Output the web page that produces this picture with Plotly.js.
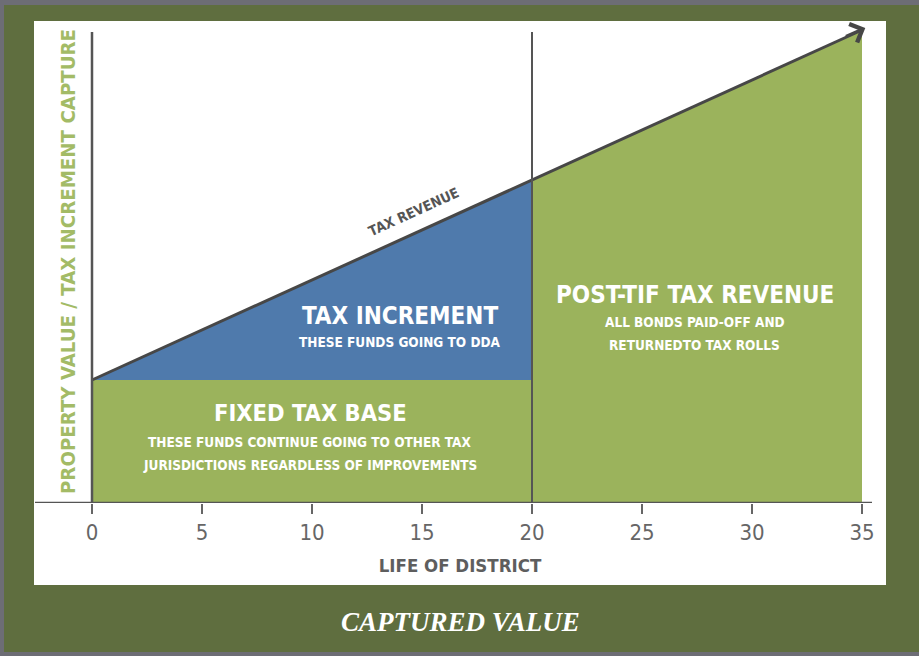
<!DOCTYPE html>
<html>
<head>
<meta charset="utf-8">
<script src="https://cdn.plot.ly/plotly-3.0.1.min.js"></script>
<style>html,body{margin:0;padding:0;background:#6d6d75;}#chart{width:919px;height:656px;}</style>
</head>
<body>
<div id="chart"></div>
<script>
// ---- data ----
const years = [0, 20, 35];            // life of district (start, TIF end, end)
const fixedBase = 123;                // frozen base value
const taxRevenue = [123, 323, 473];   // total property value / tax revenue
const xTickVals = [0, 5, 10, 15, 20, 25, 30, 35];
const xTickText = ['0', '5', '10', '15', '20', '25', '30', '35'];

const GREEN = 'rgb(155,179,92)';
const BLUE = 'rgb(79,122,172)';
const FONT = '"Liberation Sans Narrow", "DejaVu Sans Condensed", "Roboto Condensed", sans-serif';

const traces = [
  { // fixed tax base
    x: [years[0], years[1]], y: [fixedBase, fixedBase],
    mode: 'lines', line: {width: 0, color: GREEN}, fill: 'tozeroy', fillcolor: GREEN,
    hoverinfo: 'skip'
  },
  { // tax increment
    x: [years[0], years[1], years[1], years[0]],
    y: [taxRevenue[0], taxRevenue[1], fixedBase, fixedBase],
    mode: 'lines', line: {width: 0, color: BLUE}, fill: 'toself', fillcolor: BLUE,
    hoverinfo: 'skip'
  },
  { // post-TIF revenue
    x: [years[1], years[1], years[2], years[2]],
    y: [0, taxRevenue[1], taxRevenue[2], 0],
    mode: 'lines', line: {width: 0, color: GREEN}, fill: 'toself', fillcolor: GREEN,
    hoverinfo: 'skip'
  },
  { // tax revenue line
    x: years, y: taxRevenue,
    mode: 'lines', line: {width: 3, color: '#474747'}, hoverinfo: 'skip'
  }
];

const W = 852, H = 482, L = 34, T = 21;
function px(p) { return (p - L) / W; }
function py(p) { return (T + H - p) / H; }

const white = '#ffffff';
const annotations = [
  {xref: 'x', yref: 'y', x: -1.09, y: 241, text: 'PROPERTY VALUE / TAX INCREMENT CAPTURE', textangle: -90,
   showarrow: false, font: {family: FONT, size: 20.3, color: 'rgb(163,187,102)', weight: 'bold'}},
  {xref: 'x', yref: 'y', x: 14.0, y: 187, text: 'TAX INCREMENT', showarrow: false,
   font: {family: FONT, size: 24, color: white, weight: 'bold'}},
  {xref: 'x', yref: 'y', x: 14.0, y: 161, text: 'THESE FUNDS GOING TO DDA', showarrow: false,
   font: {family: FONT, size: 13.5, color: white, weight: 'bold'}},
  {xref: 'x', yref: 'y', x: 9.95, y: 90, text: 'FIXED TAX BASE', showarrow: false,
   font: {family: FONT, size: 23.5, color: white, weight: 'bold'}},
  {xref: 'x', yref: 'y', x: 9.9, y: 61, text: 'THESE FUNDS CONTINUE GOING TO OTHER TAX', showarrow: false,
   font: {family: FONT, size: 13.5, color: white, weight: 'bold'}},
  {xref: 'x', yref: 'y', x: 9.9, y: 38, text: 'JURISDICTIONS REGARDLESS OF IMPROVEMENTS', showarrow: false,
   font: {family: FONT, size: 13.5, color: white, weight: 'bold'}},
  {xref: 'x', yref: 'y', x: 27.4, y: 208, text: 'POST-TIF TAX REVENUE', showarrow: false,
   font: {family: FONT, size: 24, color: white, weight: 'bold'}},
  {xref: 'x', yref: 'y', x: 27.4, y: 181, text: 'ALL BONDS PAID-OFF AND', showarrow: false,
   font: {family: FONT, size: 13.5, color: white, weight: 'bold'}},
  {xref: 'x', yref: 'y', x: 27.4, y: 158, text: 'RETURNEDTO TAX ROLLS', showarrow: false,
   font: {family: FONT, size: 13.5, color: white, weight: 'bold'}},
  {xref: 'x', yref: 'y', x: 14.6, y: 291, text: 'TAX REVENUE', textangle: -24.4, showarrow: false,
   font: {family: FONT, size: 14, color: '#555555', weight: 'bold'}},
  // arrow head at end of revenue line
  {xref: 'x', yref: 'y', axref: 'x', ayref: 'y', x: 35.15, y: 475, ax: 34.2, ay: 466, text: '',
   showarrow: true, arrowhead: 4, arrowsize: 1.3, arrowwidth: 3, arrowcolor: '#474747', standoff: 0},
  {xref: 'paper', yref: 'paper', x: px(461), y: py(622), xanchor: 'center', yanchor: 'middle',
   text: 'CAPTURED VALUE', showarrow: false,
   font: {family: '"Liberation Serif", "DejaVu Serif", serif', size: 27, color: white, weight: 'bold', style: 'italic'}}
];

const shapes = [
  {type: 'rect', xref: 'paper', yref: 'paper', layer: 'below',
   x0: px(4), x1: px(919), y0: py(652), y1: py(5), fillcolor: 'rgb(95,110,63)', line: {width: 0}},
  {type: 'rect', xref: 'paper', yref: 'paper', layer: 'below',
   x0: px(34), x1: px(886), y0: py(585), y1: py(21), fillcolor: white, line: {width: 0}},
  {type: 'line', xref: 'x', yref: 'y', x0: 0, x1: 0, y0: 0, y1: 471, line: {color: '#555555', width: 2.5}},
  {type: 'line', xref: 'x', yref: 'y', x0: 20, x1: 20, y0: 0, y1: 471, line: {color: '#555555', width: 2}},
  {type: 'line', xref: 'paper', yref: 'y', x0: px(35), x1: px(872), y0: 0, y1: 0, line: {color: '#555555', width: 2.5}}
];

const layout = {
  width: 919, height: 656,
  margin: {l: L, r: 919 - L - W, t: T, b: 656 - T - H, pad: 0},
  paper_bgcolor: '#6d6d75',
  plot_bgcolor: 'rgba(0,0,0,0)',
  showlegend: false,
  hovermode: false,
  xaxis: {
    range: [-58 / 22, 35 + 24 / 22], showgrid: false, zeroline: false, showline: false,
    tickmode: 'array', tickvals: xTickVals, ticktext: xTickText,
    ticks: 'outside', ticklen: 10, tickwidth: 2, tickcolor: '#666666',
    tickfont: {family: FONT, size: 22, color: '#666666'},
    title: {text: 'LIFE OF DISTRICT', font: {family: FONT, size: 18.5, color: '#5e5e5e', weight: 'bold'}, standoff: 14},
    fixedrange: true
  },
  yaxis: {
    range: [0, H], showgrid: false, zeroline: false, showline: false, showticklabels: false, ticks: '',
    fixedrange: true
  },
  annotations: annotations,
  shapes: shapes
};

Plotly.newPlot('chart', traces, layout, {displayModeBar: false, staticPlot: true});
</script>
</body>
</html>
